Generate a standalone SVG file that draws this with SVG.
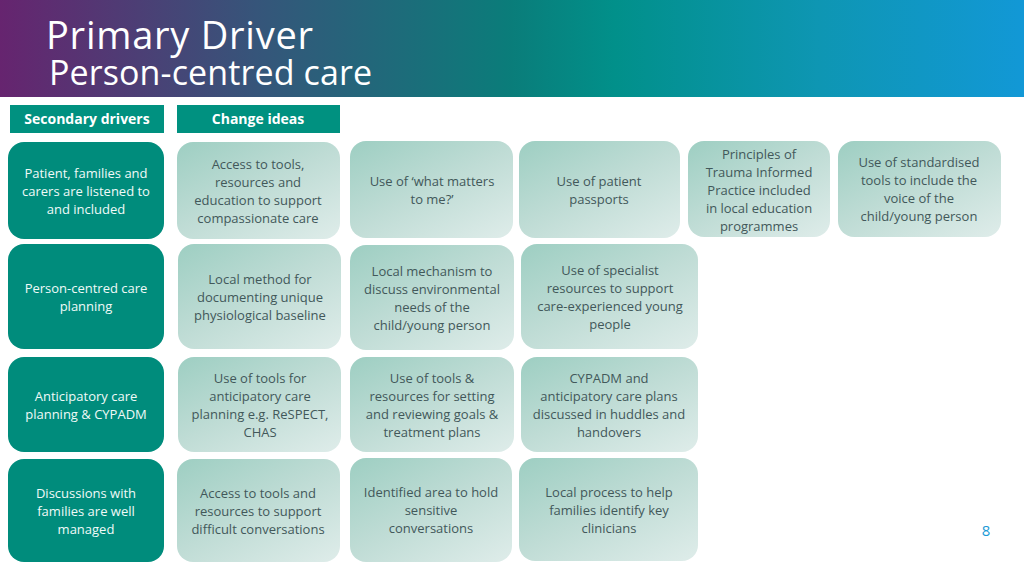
<svg xmlns="http://www.w3.org/2000/svg" width="1024" height="576" viewBox="0 0 1024 576">
<style>
text{font-family:"Open Sans","Noto Sans","Liberation Sans",sans-serif;text-anchor:middle}
.t{fill:#fff;text-anchor:start}
.h{fill:#fff;font-size:14px;font-weight:700}
.d{fill:#f0faf8;font-size:13px}
.c{fill:#42585a;font-size:13px}
.dr{fill:#008c7c}
.cb{fill:url(#g)}
.hb{fill:#009180}
.n{fill:#1b9ad6;font-size:15px}
</style>
<defs>
<linearGradient id="bar" x1="0" x2="1" y1="0" y2="0">
<stop offset="0" stop-color="#66246f"/><stop offset=".25" stop-color="#36557a"/><stop offset=".5" stop-color="#0a7d7a"/><stop offset=".6" stop-color="#01908a"/><stop offset=".8" stop-color="#0e96b3"/><stop offset="1" stop-color="#1298d6"/>
</linearGradient>
<linearGradient id="g" x1=".05" y1="0" x2=".9" y2="1">
<stop offset="0" stop-color="#9fcfc3"/><stop offset=".5" stop-color="#bfdcd5"/><stop offset="1" stop-color="#dcebe8"/>
</linearGradient>
</defs>
<rect width="1024" height="576" fill="#fff"/>
<g id="header">
<rect width="1024" height="97" fill="url(#bar)"/>
<text class="t" x="46" y="49" font-size="38" textLength="267">Primary Driver</text>
<text class="t" x="49" y="85" font-size="34" textLength="323">Person-centred care</text>
</g>
<g id="col-secondary"><rect class="hb" x="10" y="105" width="154" height="28"/><text class="h" x="87" y="124">Secondary drivers</text></g>
<g id="col-change"><rect class="hb" x="177" y="105" width="163" height="28"/><text class="h" x="258" y="124">Change ideas</text></g>

<g id="d1"><rect class="dr" x="8" y="142" width="156" height="97" rx="16"/><text class="d" x="86" y="178">Patient, families and</text><text class="d" x="86" y="196">carers are listened to</text><text class="d" x="86" y="214">and included</text></g>
<g id="d2"><rect class="dr" x="8" y="244" width="156" height="105" rx="16"/><text class="d" x="86" y="293">Person-centred care</text><text class="d" x="86" y="311">planning</text></g>
<g id="d3"><rect class="dr" x="8" y="357" width="156" height="95" rx="16"/><text class="d" x="86" y="401">Anticipatory care</text><text class="d" x="86" y="419">planning &amp; CYPADM</text></g>
<g id="d4"><rect class="dr" x="8" y="459" width="156" height="103" rx="16"/><text class="d" x="86" y="498">Discussions with</text><text class="d" x="86" y="516">families are well</text><text class="d" x="86" y="534">managed</text></g>

<g id="c11"><rect class="cb" x="177" y="142" width="163" height="97" rx="16"/><text class="c" x="258" y="169">Access to tools,</text><text class="c" x="258" y="187">resources and</text><text class="c" x="258" y="205">education to support</text><text class="c" x="258" y="223">compassionate care</text></g>
<g id="c12"><rect class="cb" x="350" y="141" width="163" height="97" rx="16"/><text class="c" x="432" y="186">Use of ‘what matters</text><text class="c" x="432" y="204">to me?’</text></g>
<g id="c13"><rect class="cb" x="519" y="141" width="161" height="97" rx="16"/><text class="c" x="599" y="186">Use of patient</text><text class="c" x="599" y="204">passports</text></g>
<g id="c14"><rect class="cb" x="688" y="141" width="142" height="96" rx="16"/><text class="c" x="759" y="159">Principles of</text><text class="c" x="759" y="177">Trauma Informed</text><text class="c" x="759" y="195">Practice included</text><text class="c" x="759" y="213">in local education</text><text class="c" x="759" y="231">programmes</text></g>
<g id="c15"><rect class="cb" x="838" y="141" width="163" height="96" rx="16"/><text class="c" x="919" y="167">Use of standardised</text><text class="c" x="919" y="185">tools to include the</text><text class="c" x="919" y="203">voice of the</text><text class="c" x="919" y="221">child/young person</text></g>

<g id="c21"><rect class="cb" x="178" y="244" width="163" height="105" rx="16"/><text class="c" x="260" y="284">Local method for</text><text class="c" x="260" y="302">documenting unique</text><text class="c" x="260" y="320">physiological baseline</text></g>
<g id="c22"><rect class="cb" x="350" y="245" width="164" height="105" rx="16"/><text class="c" x="432" y="276">Local mechanism to</text><text class="c" x="432" y="294">discuss environmental</text><text class="c" x="432" y="312">needs of the</text><text class="c" x="432" y="330">child/young person</text></g>
<g id="c23"><rect class="cb" x="521" y="244" width="177" height="105" rx="16"/><text class="c" x="610" y="275">Use of specialist</text><text class="c" x="610" y="293">resources to support</text><text class="c" x="610" y="311">care-experienced young</text><text class="c" x="610" y="329">people</text></g>

<g id="c31"><rect class="cb" x="178" y="357" width="163" height="95" rx="16"/><text class="c" x="260" y="383">Use of tools for</text><text class="c" x="260" y="401">anticipatory care</text><text class="c" x="260" y="419">planning e.g. ReSPECT,</text><text class="c" x="260" y="437">CHAS</text></g>
<g id="c32"><rect class="cb" x="350" y="357" width="164" height="95" rx="16"/><text class="c" x="432" y="383">Use of tools &amp;</text><text class="c" x="432" y="401">resources for setting</text><text class="c" x="432" y="419">and reviewing goals &amp;</text><text class="c" x="432" y="437">treatment plans</text></g>
<g id="c33"><rect class="cb" x="521" y="357" width="177" height="95" rx="16"/><text class="c" x="609" y="383">CYPADM and</text><text class="c" x="609" y="401">anticipatory care plans</text><text class="c" x="609" y="419">discussed in huddles and</text><text class="c" x="609" y="437">handovers</text></g>

<g id="c41"><rect class="cb" x="177" y="459" width="163" height="103" rx="16"/><text class="c" x="258" y="498">Access to tools and</text><text class="c" x="258" y="516">resources to support</text><text class="c" x="258" y="534">difficult conversations</text></g>
<g id="c42"><rect class="cb" x="350" y="458" width="162" height="104" rx="16"/><text class="c" x="431" y="497">Identified area to hold</text><text class="c" x="431" y="515">sensitive</text><text class="c" x="431" y="533">conversations</text></g>
<g id="c43"><rect class="cb" x="519" y="458" width="179" height="103" rx="16"/><text class="c" x="609" y="497">Local process to help</text><text class="c" x="609" y="515">families identify key</text><text class="c" x="609" y="533">clinicians</text></g>
<text class="n" x="986" y="536">8</text>
<g id="connectors"/>
</svg>
